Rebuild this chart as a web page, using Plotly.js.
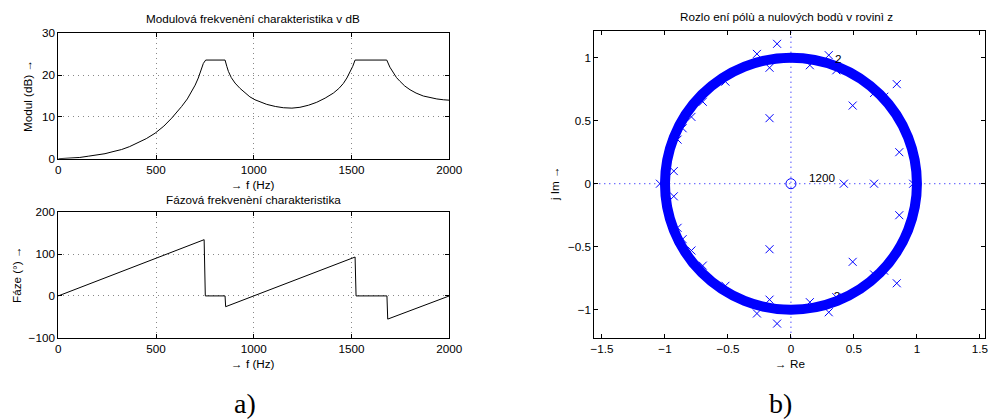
<!DOCTYPE html>
<html>
<head>
<meta charset="utf-8">
<script src="https://cdn.plot.ly/plotly-3.0.1.min.js"></script>
<style>html,body{margin:0;padding:0;background:#fff;}#chart{width:991px;height:419px;}</style>
</head>
<body>
<div id="chart"></div>
<script>
// ---- Magnitude response (dB) ----
const freqMag = [0, 60, 110, 153, 200, 239, 280, 324, 365, 409, 450, 495, 540, 580, 610, 631, 660, 682, 700, 716, 730, 742, 754,
                 853, 862, 870, 885, 904, 930, 955, 980, 1006, 1036, 1066, 1110, 1151, 1195, 1236, 1280, 1322, 1365, 1407, 1435, 1458, 1476, 1492, 1506, 1518,
                 1680, 1696, 1714, 1730, 1748, 1772, 1799, 1830, 1867, 1900, 1936, 1970, 2000];
const magDb   = [0, 0.1, 0.3, 0.6, 0.9, 1.2, 1.7, 2.2, 2.9, 3.8, 4.8, 6.1, 7.8, 9.7, 11.3, 12.5, 14.3, 16.0, 17.6, 19.3, 21.0, 22.8, 23.6,
                 23.6, 22.1, 20.9, 19.4, 18.1, 16.8, 15.7, 14.8, 14.1, 13.5, 13.0, 12.5, 12.2, 12.1, 12.3, 12.8, 13.5, 14.5, 15.7, 16.8, 18.0, 19.3, 20.7, 22.1, 23.6,
                 23.6, 21.9, 20.5, 19.4, 18.5, 17.4, 16.5, 15.7, 15.0, 14.6, 14.3, 14.1, 14.0];

// ---- Phase response (deg) ----
const freqPh = [0, 746, 752, 853, 856, 1518, 1523, 1681, 1685, 2000];
const phaseDeg = [0, 134.5, 0, 0, -25.8, 93, 0, 0, -55.5, 0];

// ---- Pole / zero plot ----
const poleRe = [-0.11, -0.27, -0.17, 0.30, 0.15, 0.84, 0.49, -0.17, 0.86, -0.93, -1.04, 0.42, 0.66, 0.97, 0.36,
                -0.11, -0.27, -0.17, 0.30, 0.15, 0.84, 0.49, -0.17, 0.86, -0.93, 0.36,
                -0.79, -0.70, -0.86, -0.90, -0.52, 0.66, 0.74,
                -0.79, -0.70, -0.86, -0.90, -0.52, 0.66, 0.74];
const poleIm = [1.11, 1.03, 0.92, 1.02, 0.94, 0.79, 0.62, 0.52, 0.25, 0.10, 0, 0, 0, 0, 0.90,
                -1.11, -1.03, -0.92, -1.02, -0.94, -0.79, -0.62, -0.52, -0.25, -0.10, -0.90,
                0.53, 0.65, 0.44, 0.35, 0.81, 0.72, 0.69,
                -0.53, -0.65, -0.44, -0.35, -0.81, -0.72, -0.69];
const zeroRe = [0];
const zeroIm = [0];
const zeroMultiplicity = '1200';
const unitRadius = 1;

const xTicksF = [0, 500, 1000, 1500, 2000];
const yTicksMag = [0, 10, 20, 30];
const yTicksPh = [-100, 0, 100, 200];
const xTicksRe = [-1.5, -1, -0.5, 0, 0.5, 1, 1.5];
const yTicksIm = [-1, -0.5, 0, 0.5, 1];

const FONT = 'Liberation Sans, Arial, sans-serif';
const FS = 11.7;
const blue = 'rgb(0,0,255)';
const DOT = '1px,4px';

const traces = [
  {x: freqMag, y: magDb, xaxis: 'x', yaxis: 'y', mode: 'lines', line: {color: 'black', width: 1}, hoverinfo: 'skip'},
  {x: freqPh, y: phaseDeg, xaxis: 'x2', yaxis: 'y2', mode: 'lines', line: {color: 'black', width: 1}, hoverinfo: 'skip'},
  {x: [0.34], y: [-0.90], xaxis: 'x3', yaxis: 'y3', mode: 'text', text: ['2'], textposition: 'middle right',
   textfont: {family: FONT, size: FS, color: 'black'}, hoverinfo: 'skip'},
  {x: poleRe, y: poleIm, xaxis: 'x3', yaxis: 'y3', mode: 'markers',
   marker: {symbol: 'x-thin-open', size: 8, color: blue, line: {color: blue, width: 1}}, hoverinfo: 'skip'},
  {x: zeroRe, y: zeroIm, xaxis: 'x3', yaxis: 'y3', mode: 'markers',
   marker: {symbol: 'circle-open', size: 10, color: blue, line: {color: blue, width: 1}}, hoverinfo: 'skip'}
];

const baseAx = {
  showline: true, linecolor: 'black', linewidth: 1, mirror: 'ticks',
  ticks: 'inside', ticklen: 4, tickcolor: 'black', tickwidth: 1,
  zeroline: false, fixedrange: true,
  tickfont: {family: FONT, size: FS, color: 'black'}
};
const gridAx = Object.assign({}, baseAx, {showgrid: true, gridcolor: '#888888', griddash: DOT, gridwidth: 1});

function txt(text, px, py, extra) {
  return Object.assign({text: text, xref: 'paper', yref: 'paper', x: px / 991, y: 1 - py / 419,
    xanchor: 'center', yanchor: 'middle', showarrow: false,
    font: {family: FONT, size: FS, color: 'black'}}, extra || {});
}

const dx = [0.0588, 0.4534];
const layout = {
  width: 991, height: 419,
  margin: {l: 0, r: 0, t: 0, b: 0},
  paper_bgcolor: 'white', plot_bgcolor: 'white',
  showlegend: false,
  xaxis: Object.assign({}, gridAx, {domain: dx, anchor: 'y', range: [0, 2000], tickvals: xTicksF}),
  yaxis: Object.assign({}, gridAx, {domain: [0.6212, 0.9205], anchor: 'x', range: [0, 30], tickvals: yTicksMag}),
  xaxis2: Object.assign({}, gridAx, {domain: dx, anchor: 'y2', range: [0, 2000], tickvals: xTicksF}),
  yaxis2: Object.assign({}, gridAx, {domain: [0.194, 0.4933], anchor: 'x2', range: [-100, 200], tickvals: yTicksPh}),
  xaxis3: Object.assign({}, baseAx, {domain: [0.5997, 0.9939], anchor: 'y3', range: [-1.561, 1.54], tickvals: xTicksRe, showgrid: false}),
  yaxis3: Object.assign({}, baseAx, {domain: [0.194, 0.9267], anchor: 'x3', range: [-1.222, 1.214], tickvals: yTicksIm, showgrid: false}),
  shapes: [
    {type: 'line', xref: 'x3 domain', yref: 'y3', x0: 0, x1: 1, y0: 0, y1: 0, layer: 'below', line: {color: blue, width: 1, dash: DOT}},
    {type: 'line', xref: 'x3', yref: 'y3 domain', x0: 0, x1: 0, y0: 0, y1: 1, layer: 'below', line: {color: blue, width: 1, dash: DOT}},
    {type: 'circle', xref: 'x3', yref: 'y3', x0: -unitRadius, y0: -unitRadius, x1: unitRadius, y1: unitRadius,
     layer: 'above', line: {color: blue, width: 10}}
  ],
  annotations: [
    txt('Modulová frekvenèní charakteristika v dB', 253, 18),
    txt('→ f (Hz)', 253, 185),
    txt('Modul (dB) →', 28, 96, {textangle: -90}),
    txt('Fázová frekvenèní charakteristika', 253, 199),
    txt('→ f (Hz)', 253, 363),
    txt('Fáze (°) →', 16, 275, {textangle: -90}),
    txt('Rozlo ení pólù a nulových bodù v rovinì z', 786, 17),
    txt('→ Re', 790, 363),
    txt('j Im →', 554, 184, {textangle: -90}),
    {text: zeroMultiplicity, xref: 'x3', yref: 'y3', x: 0.13, y: 0.05, xanchor: 'left', yanchor: 'middle', showarrow: false, font: {family: FONT, size: FS, color: 'black'}},
    {text: '2', xref: 'x3', yref: 'y3', x: 0.33, y: 0.995, xanchor: 'left', yanchor: 'middle', showarrow: false, font: {family: FONT, size: FS, color: 'black'}},
    txt('a)', 245, 403, {font: {family: 'Liberation Serif, DejaVu Serif, serif', size: 28, color: 'black'}}),
    txt('b)', 780, 403, {font: {family: 'Liberation Serif, DejaVu Serif, serif', size: 28, color: 'black'}})
  ]
};

Plotly.newPlot('chart', traces, layout, {staticPlot: true, displayModeBar: false});
</script>
</body>
</html>
